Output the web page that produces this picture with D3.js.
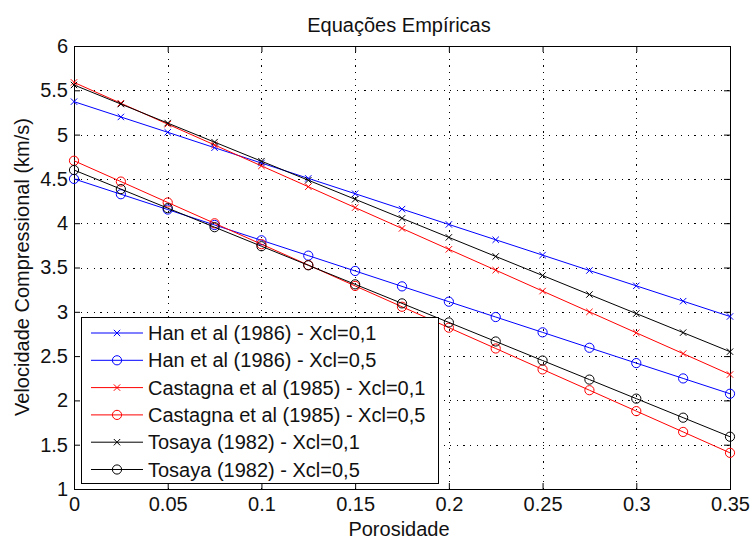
<!DOCTYPE html>
<html><head><meta charset="utf-8">
<script src="https://cdn.jsdelivr.net/npm/d3@7"></script>
<style>
body{margin:0;background:#fff}
text{font-family:"Liberation Sans",Arial,sans-serif;fill:#111}
</style>
</head><body>
<svg id="chart" width="751" height="539"></svg>
<script>
// ---- data ----
const porosity = [0, 0.025, 0.05, 0.075, 0.1, 0.125, 0.15, 0.175, 0.2, 0.225, 0.25, 0.275, 0.3, 0.325, 0.35];
const hanXcl01 = [5.372, 5.199, 5.026, 4.852, 4.679, 4.506, 4.333, 4.159, 3.986, 3.813, 3.640, 3.466, 3.293, 3.120, 2.947];
const hanXcl05 = [4.500, 4.327, 4.154, 3.980, 3.807, 3.634, 3.461, 3.287, 3.114, 2.941, 2.768, 2.594, 2.421, 2.248, 2.075];
const castagnaXcl01 = [5.589, 5.354, 5.118, 4.883, 4.647, 4.412, 4.176, 3.941, 3.705, 3.470, 3.234, 2.999, 2.763, 2.528, 2.292];
const castagnaXcl05 = [4.705, 4.470, 4.234, 3.999, 3.763, 3.528, 3.292, 3.057, 2.821, 2.586, 2.350, 2.115, 1.879, 1.644, 1.408];
const tosayaXcl01 = [5.560, 5.345, 5.130, 4.915, 4.700, 4.485, 4.270, 4.055, 3.840, 3.625, 3.410, 3.195, 2.980, 2.765, 2.550];
const tosayaXcl05 = [4.600, 4.385, 4.170, 3.955, 3.740, 3.525, 3.310, 3.095, 2.880, 2.665, 2.450, 2.235, 2.020, 1.805, 1.590];
const seriesLabels = ["Han et al (1986) - Xcl=0,1", "Han et al (1986) - Xcl=0,5",
  "Castagna et al (1985) - Xcl=0,1", "Castagna et al (1985) - Xcl=0,5",
  "Tosaya (1982) - Xcl=0,1", "Tosaya (1982) - Xcl=0,5"];
const seriesColors = ["#0000ff", "#0000ff", "#ff0000", "#ff0000", "#000000", "#000000"];
const seriesMarkers = ["x", "o", "x", "o", "x", "o"];
const xTicks = [0, 0.05, 0.1, 0.15, 0.2, 0.25, 0.3, 0.35];
const yTicks = [1, 1.5, 2, 2.5, 3, 3.5, 4, 4.5, 5, 5.5, 6];
const titleText = "Equações Empíricas";
const xLabel = "Porosidade";
const yLabel = "Velocidade Compressional (km/s)";

const seriesValues = [hanXcl01, hanXcl05, castagnaXcl01, castagnaXcl05, tosayaXcl01, tosayaXcl05];
const series = seriesLabels.map((name, i) => ({
  name, color: seriesColors[i], marker: seriesMarkers[i],
  points: porosity.map((p, j) => ({x: p, y: seriesValues[i][j]}))
}));

// ---- layout ----
const L = 74, R = 730, T = 46, B = 489;
const svg = d3.select("#chart");
const x = d3.scaleLinear().domain([0, 0.35]).range([L, R]);
const y = d3.scaleLinear().domain([1, 6]).range([B, T]);
const FS = 20;

// grid
const grid = svg.append("g").attr("stroke", "#000").attr("stroke-width", 1)
  .attr("stroke-dasharray", "1.2,5.4").attr("shape-rendering", "crispEdges");
grid.selectAll(".gx").data(xTicks.slice(1, -1)).join("line")
  .attr("x1", d => Math.round(x(d)) + 0.5).attr("x2", d => Math.round(x(d)) + 0.5)
  .attr("y1", B).attr("y2", T);
grid.selectAll(".gy").data(yTicks.slice(1, -1)).join("line")
  .attr("y1", d => Math.round(y(d)) + 0.5).attr("y2", d => Math.round(y(d)) + 0.5)
  .attr("x1", L).attr("x2", R);

// axes (ticks inward on all four sides)
const tickLen = 6;
const axB = svg.append("g").attr("transform", `translate(0,${B})`)
  .call(d3.axisBottom(x).tickValues(xTicks).tickSizeInner(-tickLen).tickSizeOuter(0).tickPadding(8).tickFormat(d => String(d)));
const axT = svg.append("g").attr("transform", `translate(0,${T})`)
  .call(d3.axisTop(x).tickValues(xTicks).tickSizeInner(-tickLen).tickSizeOuter(0).tickFormat(""));
const axL = svg.append("g").attr("transform", `translate(${L},0)`)
  .call(d3.axisLeft(y).tickValues(yTicks).tickSizeInner(-tickLen).tickSizeOuter(0).tickPadding(6).tickFormat(d => String(d)));
const axR = svg.append("g").attr("transform", `translate(${R},0)`)
  .call(d3.axisRight(y).tickValues(yTicks).tickSizeInner(-tickLen).tickSizeOuter(0).tickFormat(""));
[axB, axT, axL, axR].forEach(a => {
  a.selectAll("path,line").attr("stroke", "#000").attr("stroke-width", 1);
  a.selectAll("text").attr("font-size", FS).attr("font-family", "Liberation Sans, Arial, sans-serif").attr("fill", "#111");
});
axB.selectAll("text").attr("dy", "0.71em");
svg.append("rect").attr("x", L + 0.5).attr("y", T + 0.5).attr("width", R - L).attr("height", B - T)
  .attr("fill", "none").attr("stroke", "#000").attr("stroke-width", 1);

// series
const line = d3.line().x(d => x(d.x)).y(d => y(d.y));
function drawMarker(g, color, type, px, py) {
  if (type === "o") {
    g.append("circle").attr("cx", px).attr("cy", py).attr("r", 4.6)
      .attr("fill", "none").attr("stroke", color).attr("stroke-width", 1);
  } else {
    const s = 3.2;
    g.append("path").attr("d", `M${px - s},${py - s}L${px + s},${py + s}M${px - s},${py + s}L${px + s},${py - s}`)
      .attr("stroke", color).attr("stroke-width", 1).attr("fill", "none");
  }
}
series.forEach(s => {
  const g = svg.append("g");
  g.append("path").datum(s.points).attr("d", line).attr("fill", "none")
    .attr("stroke", s.color).attr("stroke-width", 1);
  s.points.forEach(p => drawMarker(g, s.color, s.marker, x(p.x), y(p.y)));
});

// legend
const lg = svg.append("g");
lg.append("rect").attr("x", 81.5).attr("y", 317.5).attr("width", 357).attr("height", 166)
  .attr("fill", "#fff").attr("stroke", "#000").attr("stroke-width", 1);
series.forEach((s, i) => {
  const cy = 333 + i * 27.3;
  lg.append("line").attr("x1", 91).attr("x2", 143).attr("y1", cy).attr("y2", cy)
    .attr("stroke", s.color).attr("stroke-width", 1);
  drawMarker(lg, s.color, s.marker, 117, cy);
  lg.append("text").attr("x", 148).attr("y", cy + 7).attr("font-size", FS).text(s.name);
});

// titles
svg.append("text").attr("x", 399).attr("y", 32).attr("text-anchor", "middle").attr("font-size", FS).text(titleText);
svg.append("text").attr("x", 399).attr("y", 536).attr("text-anchor", "middle").attr("font-size", FS).text(xLabel);
svg.append("text").attr("transform", "translate(29,267) rotate(-90)").attr("text-anchor", "middle").attr("font-size", FS).text(yLabel);
</script>
</body></html>
